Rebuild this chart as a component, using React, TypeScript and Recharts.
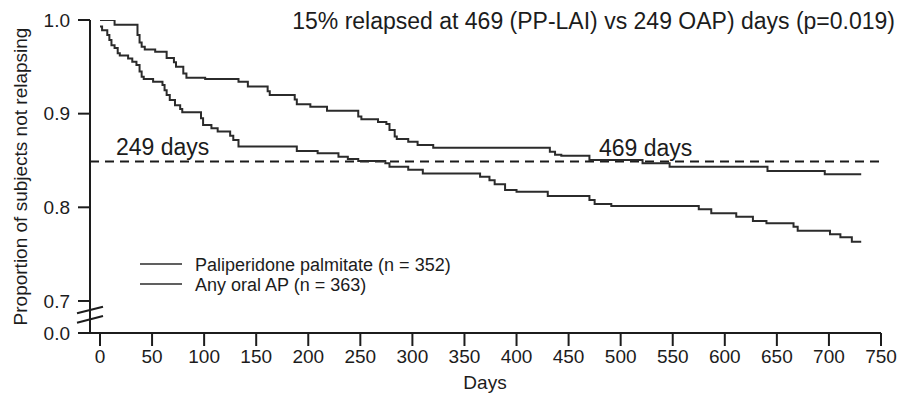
import React from "react";
import { LineChart, Line, XAxis, YAxis, ReferenceLine, Customized } from "recharts";

// ---- data ----
const ppDays = [0, 14, 36, 38, 40, 43, 53, 64, 71, 73, 80, 83, 101, 133, 142, 161, 163, 187, 189, 202, 218, 248, 251, 267, 275, 278, 283, 285, 296, 305, 320, 432, 437, 443, 470, 521, 547, 641, 696, 731];
const ppSurv = [1.0, 0.995, 0.984, 0.976, 0.9715, 0.9685, 0.966, 0.9594, 0.955, 0.95, 0.943, 0.9384, 0.937, 0.934, 0.929, 0.924, 0.92, 0.915, 0.91, 0.9075, 0.903, 0.897, 0.894, 0.891, 0.889, 0.8826, 0.8755, 0.873, 0.87, 0.8666, 0.8637, 0.8594, 0.856, 0.855, 0.8505, 0.847, 0.8434, 0.8388, 0.8353, 0.8353];

const oralDays = [0, 2, 7, 9, 11, 14, 17, 19, 27, 31, 35, 38, 40, 42, 51, 60, 62, 64, 67, 72, 77, 79, 97, 99, 107, 113, 125, 128, 133, 189, 209, 229, 238, 248, 274, 278, 296, 310, 365, 374, 379, 389, 400, 430, 470, 475, 491, 575, 587, 611, 627, 640, 666, 670, 701, 711, 722, 731];
const oralSurv = [0.993, 0.989, 0.984, 0.9786, 0.973, 0.97, 0.9644, 0.962, 0.959, 0.9555, 0.952, 0.945, 0.9395, 0.937, 0.934, 0.9306, 0.925, 0.92, 0.9146, 0.909, 0.905, 0.9015, 0.895, 0.888, 0.8844, 0.881, 0.8765, 0.872, 0.8648, 0.86, 0.8577, 0.854, 0.8516, 0.8495, 0.847, 0.8434, 0.84, 0.836, 0.8327, 0.829, 0.8246, 0.8185, 0.8167, 0.8121, 0.8078, 0.8036, 0.8014, 0.798, 0.7936, 0.79, 0.7854, 0.783, 0.7793, 0.775, 0.7712, 0.768, 0.7633, 0.7633];

const seriesNames = ["Paliperidone palmitate (n = 352)", "Any oral AP (n = 363)"];
const xTicks = [0, 50, 100, 150, 200, 250, 300, 350, 400, 450, 500, 550, 600, 650, 700, 750];
const Y_BREAK = 0.6658; // bottom of the broken axis, shown as 0.0
const yTicks = [Y_BREAK, 0.7, 0.8, 0.9, 1.0];
const yTickLabels = ["0.0", "0.7", "0.8", "0.9", "1.0"];
const thresholdValue = 0.849; // 15% relapsed
const thresholdLabels = ["249 days", "469 days"];
const titleText = "15% relapsed at 469 (PP-LAI) vs 249 OAP) days (p=0.019)";
const xLabel = "Days";
const yLabel = "Proportion of subjects not relapsing";

// merged table for the chart
const allDays = Array.from(new Set([...ppDays, ...oralDays])).sort((a, b) => a - b);
const tableData = allDays.map((d) => {
  const pi = ppDays.indexOf(d);
  const oi = oralDays.indexOf(d);
  return { day: d, pp: pi >= 0 ? ppSurv[pi] : null, oral: oi >= 0 ? oralSurv[oi] : null };
});

// ---- layout ----
const W = 902;
const H = 394;
const M = { top: 20, right: 21, bottom: 21, left: 30 };
const YW = 60;
const XH = 40;
const PLOT_LEFT = M.left + YW;
const PLOT_BOTTOM = H - M.bottom - XH;
const FONT = "'Liberation Sans', Arial, Helvetica, sans-serif";
const INK = "#1c1c1c";
const LINE = "#2b2b2b";

const Overlay = () => (
  <g fontFamily={FONT} fill={INK}>
    {/* axis break */}
    <rect x={PLOT_LEFT - 4} y={PLOT_BOTTOM - 23} width={8} height={9.5} fill="#fff" />
    <line x1={PLOT_LEFT - 13} y1={PLOT_BOTTOM - 19.7} x2={PLOT_LEFT + 13} y2={PLOT_BOTTOM - 26.3} stroke={INK} strokeWidth={2} />
    <line x1={PLOT_LEFT - 13} y1={PLOT_BOTTOM - 10.3} x2={PLOT_LEFT + 13} y2={PLOT_BOTTOM - 17} stroke={INK} strokeWidth={2} />
    {/* title */}
    <text x={895} y={29} fontSize={23} textAnchor="end">{titleText}</text>
    {/* threshold annotations */}
    <text x={116} y={155} fontSize={23}>{thresholdLabels[0]}</text>
    <text x={599} y={156} fontSize={23}>{thresholdLabels[1]}</text>
    {/* legend */}
    {seriesNames.map((n, i) => (
      <g key={n}>
        <line x1={140} x2={182} y1={264 + i * 20} y2={264 + i * 20} stroke={LINE} strokeWidth={1.6} />
        <text x={195} y={270.5 + i * 20} fontSize={18}>{n}</text>
      </g>
    ))}
    {/* axis titles */}
    <text x={485} y={389} fontSize={19} textAnchor="middle">{xLabel}</text>
    <text x={27} y={176.5} fontSize={19} textAnchor="middle" transform="rotate(-90 27 176.5)">{yLabel}</text>
  </g>
);

export default function App() {
  return (
    <div style={{ position: "absolute", left: 0, top: 0, width: W, height: H, background: "#fff" }}>
      <LineChart width={W} height={H} data={tableData} margin={M}>
        <XAxis
          dataKey="day"
          type="number"
          domain={[-9.6, 750]}
          ticks={xTicks}
          allowDataOverflow
          height={XH}
          tickSize={13}
          tickMargin={4}
          axisLine={{ stroke: INK, strokeWidth: 2 }}
          tickLine={{ stroke: INK, strokeWidth: 2 }}
          tick={{ fill: INK, fontSize: 19, fontFamily: FONT }}
          interval={0}
        />
        <YAxis
          type="number"
          domain={[Y_BREAK, 1.0]}
          ticks={yTicks}
          allowDataOverflow
          width={YW}
          tickSize={12}
          tickMargin={8}
          axisLine={{ stroke: INK, strokeWidth: 2 }}
          tickLine={{ stroke: INK, strokeWidth: 2 }}
          tick={{ fill: INK, fontSize: 19, fontFamily: FONT }}
          tickFormatter={(v: number) => yTickLabels[yTicks.indexOf(v)] ?? v.toFixed(1)}
          interval={0}
        />
        <ReferenceLine y={thresholdValue} stroke={INK} strokeWidth={2} strokeDasharray="9 6" />
        <Line dataKey="pp" type="stepAfter" stroke={LINE} strokeWidth={2} dot={false} connectNulls isAnimationActive={false} />
        <Line dataKey="oral" type="stepAfter" stroke={LINE} strokeWidth={2} dot={false} connectNulls isAnimationActive={false} />
        <Customized component={<Overlay />} />
      </LineChart>
    </div>
  );
}
